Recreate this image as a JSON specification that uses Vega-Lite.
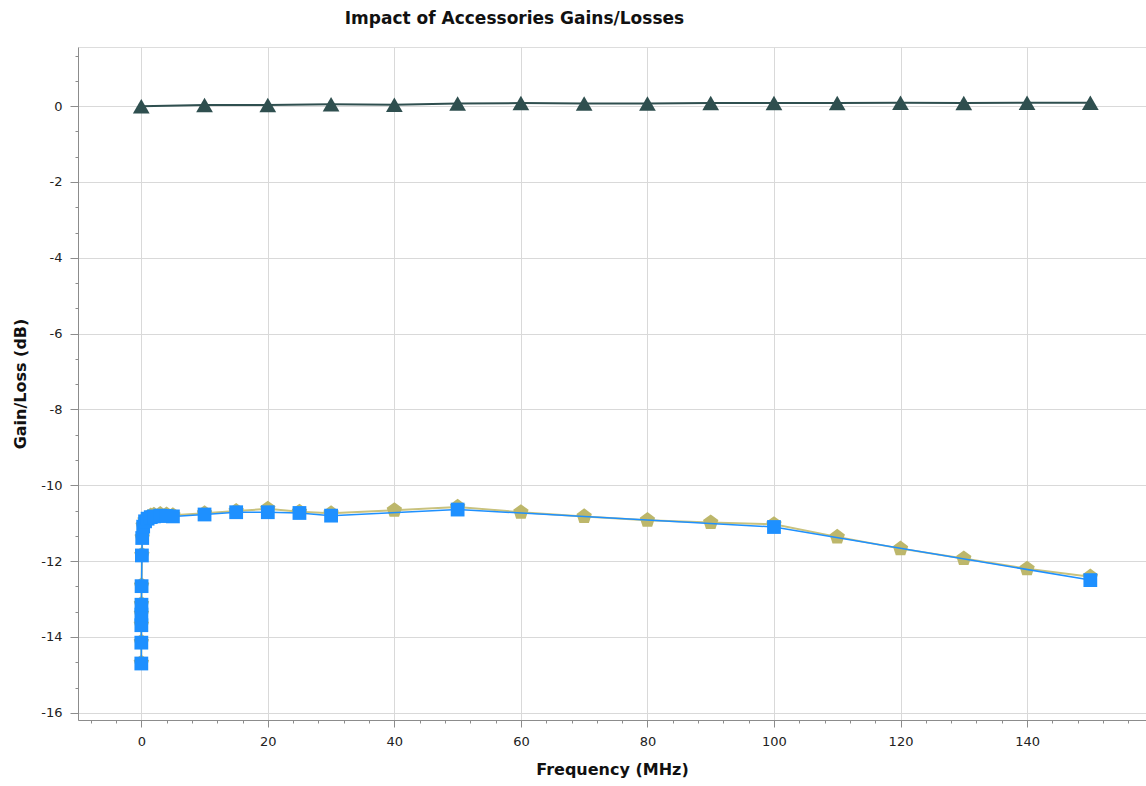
{
  "$schema": "https://vega.github.io/schema/vega-lite/v6.json",
  "width": 1068,
  "height": 673,
  "autosize": "none",
  "padding": {"left": 78, "top": 47, "right": 0, "bottom": 66},
  "background": "white",
  "title": {
    "text": "Impact of Accessories Gains/Losses",
    "anchor": "start",
    "dx": 332,
    "offset": 19,
    "font": "DejaVu Sans",
    "fontSize": 17,
    "fontWeight": "bold",
    "color": "#111111"
  },
  "config": {
    "view": {"stroke": "#dddddd", "strokeWidth": 1},
    "axis": {
      "labelFont": "DejaVu Sans",
      "labelFontSize": 13,
      "labelColor": "#222222",
      "titleFont": "DejaVu Sans",
      "titleFontSize": 16,
      "titleFontWeight": "bold",
      "titleColor": "#111111",
      "domainColor": "#8c8c8c",
      "tickColor": "#8c8c8c",
      "gridWidth": 1
    }
  },
  "datasets": {
    "pts": [
      {"series": "A", "freq": 0, "value": 0.0},
      {"series": "A", "freq": 10, "value": 0.03},
      {"series": "A", "freq": 20, "value": 0.03},
      {"series": "A", "freq": 30, "value": 0.05},
      {"series": "A", "freq": 40, "value": 0.04},
      {"series": "A", "freq": 50, "value": 0.07},
      {"series": "A", "freq": 60, "value": 0.08},
      {"series": "A", "freq": 70, "value": 0.07},
      {"series": "A", "freq": 80, "value": 0.07},
      {"series": "A", "freq": 90, "value": 0.08},
      {"series": "A", "freq": 100, "value": 0.08},
      {"series": "A", "freq": 110, "value": 0.08},
      {"series": "A", "freq": 120, "value": 0.09},
      {"series": "A", "freq": 130, "value": 0.08},
      {"series": "A", "freq": 140, "value": 0.09},
      {"series": "A", "freq": 150, "value": 0.09},

      {"series": "K", "freq": 0.009, "value": -14.68},
      {"series": "K", "freq": 0.01, "value": -14.13},
      {"series": "K", "freq": 0.015, "value": -13.67},
      {"series": "K", "freq": 0.02, "value": -13.39},
      {"series": "K", "freq": 0.03, "value": -13.13},
      {"series": "K", "freq": 0.05, "value": -12.64},
      {"series": "K", "freq": 0.1, "value": -11.83},
      {"series": "K", "freq": 0.15, "value": -11.37},
      {"series": "K", "freq": 0.3, "value": -11.06},
      {"series": "K", "freq": 0.6, "value": -10.92},
      {"series": "K", "freq": 1, "value": -10.85},
      {"series": "K", "freq": 1.5, "value": -10.8},
      {"series": "K", "freq": 2, "value": -10.78},
      {"series": "K", "freq": 3, "value": -10.76},
      {"series": "K", "freq": 4, "value": -10.77},
      {"series": "K", "freq": 5, "value": -10.79},
      {"series": "K", "freq": 10, "value": -10.74},
      {"series": "K", "freq": 15, "value": -10.68},
      {"series": "K", "freq": 20, "value": -10.62},
      {"series": "K", "freq": 25, "value": -10.7},
      {"series": "K", "freq": 30, "value": -10.74},
      {"series": "K", "freq": 40, "value": -10.66},
      {"series": "K", "freq": 50, "value": -10.57},
      {"series": "K", "freq": 60, "value": -10.71},
      {"series": "K", "freq": 70, "value": -10.82},
      {"series": "K", "freq": 80, "value": -10.92},
      {"series": "K", "freq": 90, "value": -10.98},
      {"series": "K", "freq": 100, "value": -11.03},
      {"series": "K", "freq": 110, "value": -11.36},
      {"series": "K", "freq": 120, "value": -11.67},
      {"series": "K", "freq": 130, "value": -11.93},
      {"series": "K", "freq": 140, "value": -12.2},
      {"series": "K", "freq": 150, "value": -12.41},

      {"series": "B", "freq": 0.009, "value": -14.7},
      {"series": "B", "freq": 0.01, "value": -14.15},
      {"series": "B", "freq": 0.015, "value": -13.69},
      {"series": "B", "freq": 0.02, "value": -13.41},
      {"series": "B", "freq": 0.03, "value": -13.15},
      {"series": "B", "freq": 0.05, "value": -12.66},
      {"series": "B", "freq": 0.1, "value": -11.85},
      {"series": "B", "freq": 0.15, "value": -11.39},
      {"series": "B", "freq": 0.3, "value": -11.09},
      {"series": "B", "freq": 0.6, "value": -10.95},
      {"series": "B", "freq": 1, "value": -10.88},
      {"series": "B", "freq": 1.5, "value": -10.84},
      {"series": "B", "freq": 2, "value": -10.82},
      {"series": "B", "freq": 3, "value": -10.8},
      {"series": "B", "freq": 4, "value": -10.81},
      {"series": "B", "freq": 5, "value": -10.82},
      {"series": "B", "freq": 10, "value": -10.77},
      {"series": "B", "freq": 15, "value": -10.71},
      {"series": "B", "freq": 20, "value": -10.71},
      {"series": "B", "freq": 25, "value": -10.73},
      {"series": "B", "freq": 30, "value": -10.8},
      {"series": "B", "freq": 50, "value": -10.64},
      {"series": "B", "freq": 100, "value": -11.1},
      {"series": "B", "freq": 150, "value": -12.5}
    ]
  },
  "data": {"name": "pts"},
  "encoding": {
    "x": {
      "field": "freq",
      "type": "quantitative",
      "scale": {"domain": [-10, 158.8], "nice": false, "zero": false},
      "axis": {
        "title": "Frequency (MHz)",
        "values": [-8, -4, 0, 4, 8, 12, 16, 20, 24, 28, 32, 36, 40, 44, 48, 52, 56, 60, 64, 68, 72, 76, 80, 84, 88, 92, 96, 100, 104, 108, 112, 116, 120, 124, 128, 132, 136, 140, 144, 148, 152, 156],
        "labelExpr": "datum.value % 20 === 0 ? datum.label : ''",
        "tickSize": {"condition": {"test": "datum.value % 20 === 0", "value": 7}, "value": 3},
        "gridColor": {"condition": {"test": "datum.value % 20 === 0", "value": "#d9d9d9"}, "value": "transparent"},
        "labelPadding": 8,
        "titlePadding": 13,
        "labelFlush": false,
        "labelOverlap": false
      }
    },
    "y": {
      "field": "value",
      "type": "quantitative",
      "scale": {"domain": [-16.19, 1.56], "nice": false, "zero": false},
      "axis": {
        "title": "Gain/Loss (dB)",
        "values": [-16, -15.3333, -14.6667, -14, -13.3333, -12.6667, -12, -11.3333, -10.6667, -10, -9.3333, -8.6667, -8, -7.3333, -6.6667, -6, -5.3333, -4.6667, -4, -3.3333, -2.6667, -2, -1.3333, -0.6667, 0, 0.6667, 1.3333],
        "labelExpr": "abs(datum.value - round(datum.value / 2) * 2) < 0.01 ? '' + round(datum.value) : ''",
        "tickSize": {"condition": {"test": "abs(datum.value - round(datum.value / 2) * 2) < 0.01", "value": 8}, "value": 3},
        "gridColor": {"condition": {"test": "abs(datum.value - round(datum.value / 2) * 2) < 0.01", "value": "#d9d9d9"}, "value": "transparent"},
        "labelPadding": 8,
        "titlePadding": 12,
        "labelFlush": false,
        "labelOverlap": false
      }
    }
  },
  "layer": [
    {
      "transform": [{"filter": "datum.series === 'A'"}],
      "mark": {"type": "line", "color": "#2F4F4F", "strokeWidth": 2,
        "point": {"shape": "triangle-up", "size": 280, "filled": true, "color": "#2F4F4F", "opacity": 1}}
    },
    {
      "transform": [{"filter": "datum.series === 'K'"}],
      "mark": {"type": "line", "color": "#C9C27E", "strokeWidth": 2,
        "point": {"shape": "M0,-1L0.951,-0.309L0.588,0.809L-0.588,0.809L-0.951,-0.309Z", "size": 260, "filled": true, "color": "#BDB76B", "opacity": 1}}
    },
    {
      "transform": [{"filter": "datum.series === 'B'"}],
      "mark": {"type": "line", "color": "#1E90FF", "strokeWidth": 1.5,
        "point": {"shape": "square", "size": 190, "filled": true, "color": "#1E90FF", "opacity": 1}}
    }
  ]
}
